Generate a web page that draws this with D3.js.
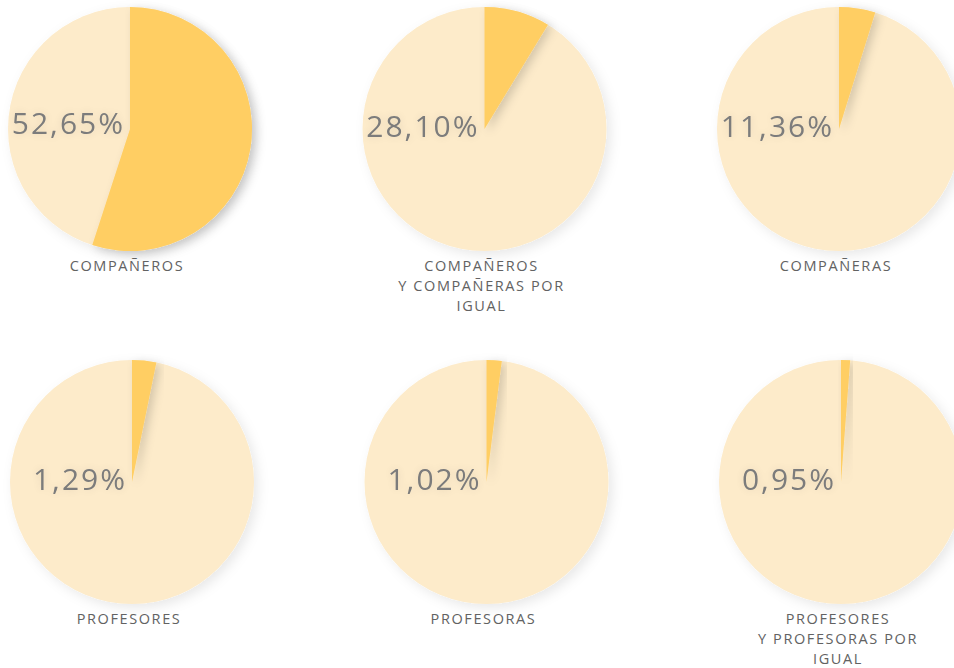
<!DOCTYPE html>
<html>
<head>
<meta charset="utf-8">
<script src="https://cdn.jsdelivr.net/npm/d3@7"></script>
<style>
	body { margin: 0; background: #ffffff; overflow: hidden; }
	svg { display: block; }
	.pct { font-family: 'Open Sans', sans-serif; fill: #7b7b7b; }
	.cat { font-family: 'Open Sans', sans-serif; fill: #626262; }
</style>
</head>
<body>
<div id="chart"></div>
<script>
// labels of each pie (lines split for wrapping)
const categories = [
	["COMPAÑEROS"],
	["COMPAÑEROS", "Y COMPAÑERAS POR", "IGUAL"],
	["COMPAÑERAS"],
	["PROFESORES"],
	["PROFESORAS"],
	["PROFESORES", "Y PROFESORAS POR", "IGUAL"]
];

// percentages written on the pies
const percentValues = [52.65, 28.10, 11.36, 1.29, 1.02, 0.95];

// share of the highlighted slice as drawn in the picture (%)
const sliceShares = [55, 8.7, 4.8, 3.2, 2.0, 1.2];

const width = 954, height = 668;
const radius = 122;

let svg = d3.select("#chart").append("svg")
	.attr("width", width)
	.attr("height", height);

let defs = svg.append("defs");

// soft shadow for the pies
let pieShadow = defs.append("filter")
	.attr("id", "pie-shadow")
	.attr("x", "-20%").attr("y", "-20%")
	.attr("width", "140%").attr("height", "140%");
pieShadow.append("feDropShadow")
	.attr("dx", 4).attr("dy", 4)
	.attr("stdDeviation", 6)
	.attr("flood-color", "#000")
	.attr("flood-opacity", 0.09);

// shadow cast by the dark slice
let sliceShadow = defs.append("filter")
	.attr("id", "slice-shadow")
	.attr("x", "-30%").attr("y", "-30%")
	.attr("width", "160%").attr("height", "160%");
sliceShadow.append("feDropShadow")
	.attr("dx", 4).attr("dy", 3)
	.attr("stdDeviation", 5)
	.attr("flood-color", "#000")
	.attr("flood-opacity", 0.16);

// blurry glow behind the percentage
let textGlow = defs.append("filter")
	.attr("id", "text-glow")
	.attr("x", "-20%").attr("y", "-50%")
	.attr("width", "140%").attr("height", "200%");
textGlow.append("feGaussianBlur")
	.attr("in", "SourceAlpha")
	.attr("stdDeviation", 4)
	.attr("result", "blur");
textGlow.append("feComponentTransfer")
	.attr("in", "blur")
	.attr("result", "soft")
	.append("feFuncA")
	.attr("type", "linear")
	.attr("slope", 0.12);
let merge = textGlow.append("feMerge");
merge.append("feMergeNode").attr("in", "soft");
merge.append("feMergeNode").attr("in", "SourceGraphic");

// grid positions
const col = d3.scalePoint().domain([0, 1, 2]).range([130, 839]);
const row = d3.scalePoint().domain([0, 1]).range([129, 482]);

const pie = d3.pie().sort(null).value(d => d);
const arc = d3.arc().innerRadius(0).outerRadius(radius);
const fmt = v => d3.format(".2f")(v).replace(".", ",") + "%";

const colors = ["#ffce63", "#fdebca"];

categories.forEach((lines, i) => {
	let r = Math.floor(i / 3);
	let cx = col(i % 3) + r * 2;
	let cy = row(r);
	let g = svg.append("g").attr("transform", `translate(${cx},${cy})`);

	let slices = pie([sliceShares[i], 100 - sliceShares[i]]);

	// full disc (light part) with shadow
	g.append("circle")
		.attr("r", radius)
		.attr("fill", colors[1])
		.attr("filter", "url(#pie-shadow)");

	// highlighted slice
	g.append("path")
		.attr("d", arc(slices[0]))
		.attr("fill", colors[0])
		.attr("filter", "url(#slice-shadow)");

	// percentage, right-aligned at the center
	g.append("text")
		.attr("class", "pct")
		.attr("x", -5)
		.attr("y", i === 0 ? 5 : 8)
		.attr("text-anchor", "end")
		.style("font-size", "30px")
		.style("font-weight", "500")
		.style("letter-spacing", "2px")
		.attr("filter", "url(#text-glow)")
		.text(fmt(percentValues[i]));

	// category label under the pie
	let label = g.append("text")
		.attr("class", "cat")
		.attr("text-anchor", "middle")
		.style("font-size", "14.5px")
		.style("letter-spacing", "1.6px");
	lines.forEach((l, j) => {
		label.append("tspan")
			.attr("x", -3)
			.attr("y", radius + 20 + j * 19.8)
			.text(l);
	});
});
</script>
</body>
</html>
